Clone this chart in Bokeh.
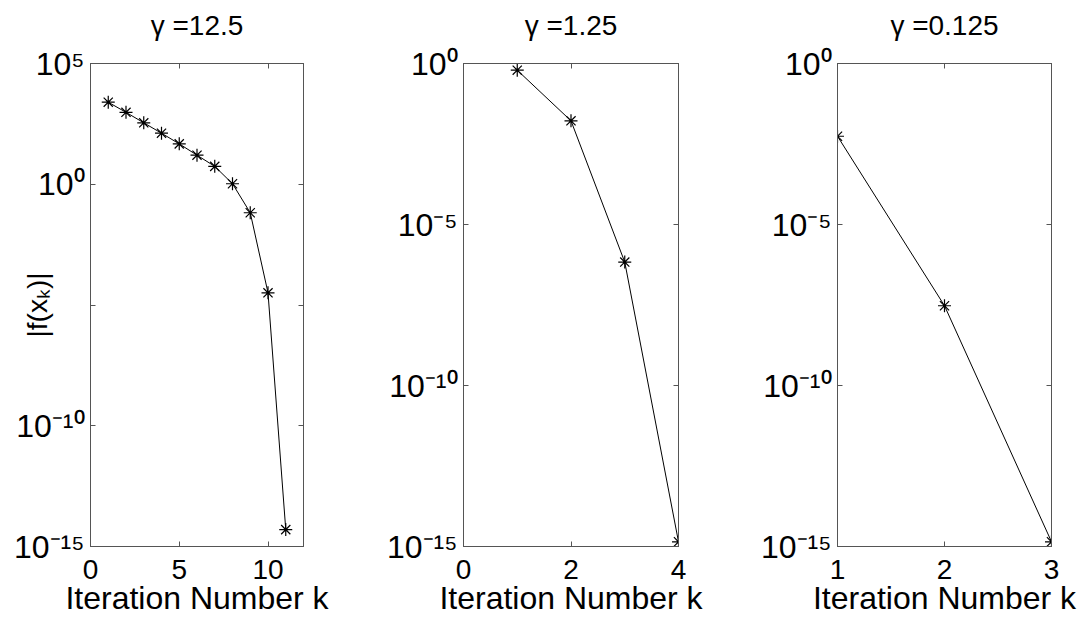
import numpy as np
from bokeh.plotting import figure
from bokeh.models import LinearAxis, LogAxis, FixedTicker, Range1d, CustomJSTickFormatter
from bokeh.layouts import row
from bokeh.embed import file_html
from bokeh.resources import INLINE

# ---------------- data ----------------
titles = ["γ =12.5", "γ =1.25", "γ =0.125"]
x_label = "Iteration Number k"
y_label = "|f(xₖ)|"

k1 = [1, 2, 3, 4, 5, 6, 7, 8, 9, 10, 11]
f1 = [2.5e3, 9.5e2, 3.5e2, 1.3e2, 4.7e1, 1.6e1, 5.5, 1.05, 6.6e-2, 3.2e-5, 5.0e-15]

k2 = [1, 2, 3, 4]
f2 = [6.2e-1, 1.66e-2, 6.8e-7, 1.4e-15]

k3 = [1, 2, 3]
f3 = [5.5e-3, 3.0e-8, 1.4e-15]

x_ranges = [(0, 12), (0, 4), (1, 3)]
x_ticks = [[0, 5, 10], [0, 2, 4], [1, 2, 3]]
y_exp_ranges = [(-15, 5), (-15, 0), (-15, 0)]
y_tick_exps = [[5, 0, -5, -10, -15], [0, -5, -10, -15], [0, -5, -10, -15]]
y_label_exps = [[5, 0, -10, -15], [0, -5, -10, -15], [0, -5, -10, -15]]

# ---------------- style ----------------
FONT = "Liberation Sans"
GRAY = "#555555"
SUP = str.maketrans("0123456789-", "⁰¹²³⁴⁵⁶⁷⁸⁹⁻")


def hidden(axis):
    axis.formatter = CustomJSTickFormatter(code="return ''")
    axis.major_label_standoff = 0
    axis.major_label_text_font_size = "1px"


def style(axis):
    axis.axis_line_color = GRAY
    axis.major_tick_line_color = GRAY
    axis.major_tick_in = 5
    axis.major_tick_out = 0
    axis.minor_tick_line_color = None


def text_style(axis, size, standoff):
    axis.axis_label_text_font = FONT
    axis.axis_label_text_font_size = size
    axis.axis_label_text_font_style = "normal"
    axis.axis_label_text_color = "black"
    axis.axis_label_standoff = standoff


def panel(k, f, title, xr, yr, xt, yt, yl, width, left, right, with_ylabel):
    p = figure(width=width, height=619,
               x_range=Range1d(*xr), y_range=Range1d(10.0 ** yr[0], 10.0 ** yr[1]),
               y_axis_type="log", output_backend="svg", toolbar_location=None,
               min_border_left=left, min_border_right=right,
               min_border_top=63, min_border_bottom=73)
    p.grid.visible = False
    p.outline_line_color = GRAY
    p.outline_line_width = 1
    p.background_fill_color = "white"
    p.border_fill_color = "white"

    yticks = [10.0 ** e for e in yt]
    xa = p.xaxis[0]
    ya = p.yaxis[0]
    xa.ticker = FixedTicker(ticks=xt)
    ya.ticker = FixedTicker(ticks=yticks)
    style(xa)
    style(ya)
    xa.major_label_text_font = FONT
    xa.major_label_text_font_size = "28px"
    xa.major_label_text_color = "black"
    xa.major_label_standoff = 13
    xa.axis_label = x_label
    text_style(xa, "32px", -2)

    ya.major_label_overrides = {10.0 ** e: ("10" + str(e).translate(SUP)) if e in yl else ""
                                for e in yt}
    ya.major_label_text_font = FONT
    ya.major_label_text_font_size = "32px"
    ya.major_label_text_color = "black"
    ya.major_label_standoff = 6
    if with_ylabel:
        ya.axis_label = y_label
        text_style(ya, "28px", -42)

    ra = LogAxis(ticker=FixedTicker(ticks=yticks))
    style(ra)
    hidden(ra)
    p.add_layout(ra, "right")

    # top axis: box ticks, and the panel title as its label
    ta = LinearAxis(ticker=FixedTicker(ticks=xt))
    style(ta)
    hidden(ta)
    ta.axis_label = title
    text_style(ta, "28px", 23)
    p.add_layout(ta, "above")

    p.line(k, f, line_color="black", line_width=1)
    p.scatter(k, f, marker="asterisk", size=13, line_color="black", line_width=1.2)
    return p


p1 = panel(k1, f1, titles[0], x_ranges[0], y_exp_ranges[0], x_ticks[0], y_tick_exps[0],
           y_label_exps[0], 361, 90, 58, True)
p2 = panel(k2, f2, titles[1], x_ranges[1], y_exp_ranges[1], x_ticks[1], y_tick_exps[1],
           y_label_exps[1], 361, 102, 44, False)
p3 = panel(k3, f3, titles[2], x_ranges[2], y_exp_ranges[2], x_ticks[2], y_tick_exps[2],
           y_label_exps[2], 362, 115, 33, False)

layout = row(p1, p2, p3, spacing=0)
open("out.html", "w").write(file_html(layout, INLINE))
